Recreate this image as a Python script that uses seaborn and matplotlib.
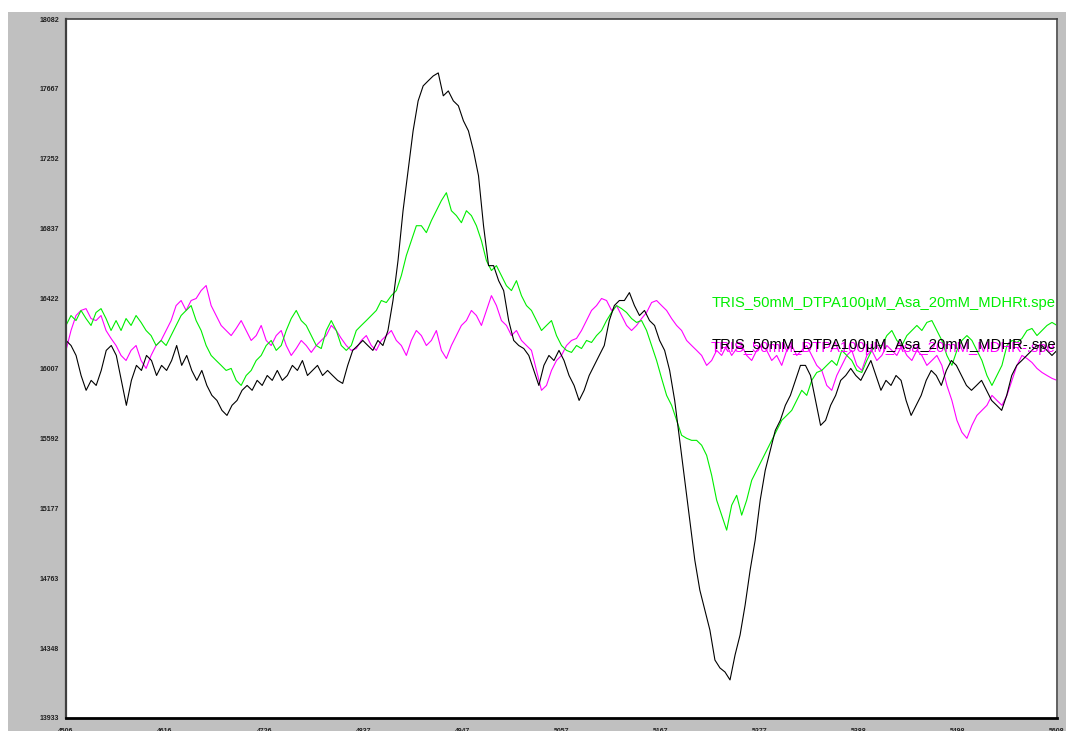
import numpy as np
import pandas as pd
import matplotlib
matplotlib.use("Agg")
import matplotlib.pyplot as plt
import seaborn as sns
from matplotlib.patches import Rectangle

# ---------------- data ----------------
FIELD_MIN, FIELD_MAX = 4506, 5608
Y_MIN, Y_MAX = 13933, 18082

x_tick_labels = ["4506", "4616", "4726", "4837", "4947", "5057",
                 "5167", "5277", "5388", "5498", "5608"]
y_tick_labels = ["13933", "14348", "14763", "15177", "15592", "16007",
                 "16422", "16837", "17252", "17667", "18082"]

label_green = "TRIS_50mM_DTPA100µM_Asa_20mM_MDHRt.spe"
label_black = "TRIS_50mM_DTPA100µM_Asa_20mM_MDHR-.spe"
label_magenta = "TRIS_50mM_DTPA100µM_Asa_20mM_MDHR-.spe"

black_vals = [
    16174, 16144, 16085, 15966, 15878, 15937, 15907, 15996, 16115, 16144,
    16085, 15937, 15789, 15937, 16026, 15996, 16085, 16055, 15966, 16026,
    15996, 16055, 16144, 16026, 16085, 15996, 15937, 15996, 15907, 15848,
    15818, 15759, 15729, 15789, 15818, 15878, 15907, 15878, 15937, 15907,
    15966, 15937, 15996, 15937, 15966, 16026, 15996, 16055, 15966, 15996,
    16026, 15966, 15996, 15966, 15937, 15919, 16026, 16115, 16144, 16174,
    16144, 16115, 16174, 16144, 16233, 16411, 16648, 16944, 17181, 17418,
    17596, 17685, 17715, 17744, 17762, 17626, 17655, 17596, 17567, 17478,
    17418, 17300, 17152, 16855, 16618, 16618, 16529, 16470, 16292, 16174,
    16144, 16126, 16085, 15996, 15907, 16026, 16085, 16055, 16115, 16055,
    15966, 15907, 15818, 15878, 15966, 16026, 16085, 16144, 16292, 16381,
    16411, 16411, 16458, 16381, 16322, 16352, 16292, 16263, 16174, 16115,
    15996, 15818, 15581, 15344, 15107, 14870, 14692, 14574, 14455, 14277,
    14230, 14206, 14159, 14307, 14426, 14603, 14811, 14989, 15226, 15403,
    15522, 15640, 15700, 15789, 15848, 15937, 16026, 16026, 15966, 15818,
    15670, 15700, 15789, 15848, 15937, 15966, 16008, 15966, 15937, 15996,
    16055, 15966, 15878, 15937, 15907, 15966, 15937, 15818, 15729, 15789,
    15848, 15937, 15996, 15966, 15907, 15996, 16055, 16026, 15966, 15907,
    15878, 15907, 15937, 15878, 15818, 15789, 15759, 15848, 15966, 16026,
    16055, 16085, 16115, 16144, 16144, 16115, 16085, 16115,
]

green_vals = [
    16263, 16322, 16292, 16352, 16304, 16263, 16340, 16363, 16304, 16233,
    16292, 16233, 16304, 16263, 16322, 16281, 16233, 16203, 16144, 16174,
    16144, 16203, 16263, 16322, 16352, 16381, 16292, 16233, 16144, 16085,
    16055, 16026, 15996, 16008, 15937, 15907, 15966, 15996, 16055, 16085,
    16144, 16174, 16115, 16144, 16233, 16304, 16352, 16292, 16263, 16203,
    16144, 16126, 16233, 16292, 16233, 16144, 16115, 16144, 16233, 16263,
    16292, 16322, 16352, 16411, 16399, 16440, 16470, 16559, 16678, 16766,
    16855, 16855, 16814, 16885, 16944, 17004, 17051, 16944, 16915, 16873,
    16944, 16915, 16855, 16766, 16648, 16589, 16618, 16559, 16499, 16470,
    16529, 16440, 16381, 16352, 16292, 16233, 16263, 16292, 16203, 16144,
    16115, 16103, 16144, 16126, 16174, 16162, 16203, 16233, 16292, 16340,
    16381, 16363, 16340, 16304, 16281, 16292, 16233, 16144, 16055, 15949,
    15848, 15789, 15700, 15611, 15593, 15581, 15581, 15552, 15492, 15374,
    15226, 15137, 15048, 15196, 15255, 15137, 15226, 15344, 15403, 15463,
    15522, 15581, 15640, 15700, 15729, 15759, 15818, 15878, 15848, 15937,
    15984, 15996, 16026, 16055, 16026, 16115, 16085, 16055, 15996, 15984,
    16055, 16115, 16144, 16144, 16203, 16233, 16174, 16144, 16203, 16233,
    16263, 16233, 16281, 16292, 16233, 16174, 16085, 16026, 16115, 16174,
    16203, 16174, 16115, 16055, 15966, 15907, 15966, 16026, 16144, 16174,
    16162, 16186, 16233, 16245, 16203, 16233, 16263, 16281, 16263,
]

magenta_vals = [
    16115, 16233, 16322, 16352, 16363, 16304, 16292, 16322, 16233, 16186,
    16144, 16085, 16055, 16115, 16144, 16055, 16008, 16085, 16144, 16174,
    16233, 16292, 16381, 16411, 16352, 16411, 16423, 16470, 16500, 16381,
    16322, 16263, 16233, 16203, 16245, 16292, 16233, 16174, 16203, 16263,
    16174, 16144, 16203, 16233, 16144, 16085, 16126, 16174, 16144, 16103,
    16144, 16174, 16203, 16263, 16233, 16186, 16144, 16115, 16126, 16174,
    16203, 16144, 16115, 16174, 16203, 16233, 16174, 16144, 16085, 16174,
    16233, 16203, 16144, 16174, 16233, 16115, 16067, 16144, 16203, 16263,
    16292, 16352, 16322, 16263, 16352, 16440, 16381, 16292, 16263, 16203,
    16233, 16174, 16144, 16115, 15996, 15878, 15907, 15996, 16055, 16085,
    16144, 16174, 16186, 16233, 16292, 16352, 16381, 16423, 16411, 16352,
    16381, 16322, 16263, 16233, 16263, 16304, 16340, 16399, 16411, 16381,
    16352, 16304, 16263, 16233, 16174, 16144, 16115, 16085, 16026, 16055,
    16115, 16085, 16144, 16085, 16126, 16144, 16085, 16055, 16115, 16144,
    16115, 16055, 16085, 16026, 16115, 16144, 16085, 16115, 16144, 16085,
    16026, 15996, 15907, 15878, 15966, 16026, 16085, 16115, 16026, 15996,
    16085, 16115, 16055, 16085, 16144, 16115, 16085, 16144, 16085, 16055,
    16115, 16085, 16026, 16055, 16085, 16026, 15907, 15818, 15700, 15629,
    15593, 15670, 15729, 15759, 15789, 15848, 15818, 15789, 15848, 15937,
    16026, 16085, 16067, 16043, 16008, 15984, 15966, 15949, 15937,
]

# ---------------- build long table ----------------
frames = []
for name, vals in [("magenta", magenta_vals), ("green", green_vals), ("black", black_vals)]:
    n = len(vals)
    frames.append(pd.DataFrame({
        "field": np.linspace(FIELD_MIN, FIELD_MAX, n),
        "intensity": vals,
        "series": name,
    }))
df = pd.concat(frames, ignore_index=True)

palette = {"magenta": "#ff00ff", "green": "#00ee00", "black": "#000000"}

# ---------------- figure ----------------
sns.set_style("white")
plt.rcParams["font.family"] = ["Liberation Sans", "DejaVu Sans"]

W, H = 1066, 731
fig = plt.figure(figsize=(W / 100, H / 100), dpi=100, facecolor="white")
bg = Rectangle((8 / W, 0), 1 - 8 / W, (H - 12) / H,
               transform=fig.transFigure, facecolor="#c0c0c0",
               edgecolor="none", zorder=-10)
fig.patches.append(bg)

ax = fig.add_axes([66 / W, 1 - 718 / H, (1057 - 66) / W, (718 - 19) / H])
ax.set_zorder(1)
ax.set_facecolor("white")

sns.lineplot(data=df, x="field", y="intensity", hue="series",
             hue_order=["magenta", "green", "black"], palette=palette,
             linewidth=0.8, legend=False, ax=ax, sort=False, estimator=None)

ax.set_xlim(FIELD_MIN, FIELD_MAX)
ax.set_ylim(Y_MIN, Y_MAX)
ax.set_xlabel("")
ax.set_ylabel("")

ax.set_xticks(np.linspace(FIELD_MIN, FIELD_MAX, len(x_tick_labels)))
ax.set_xticklabels(x_tick_labels)
ax.set_yticks(np.linspace(Y_MIN, Y_MAX, len(y_tick_labels)))
ax.set_yticklabels(y_tick_labels)
ax.tick_params(axis="both", direction="out", length=3.5, width=0.8,
               color="#202020", labelsize=5, labelcolor="#202020")
ax.tick_params(axis="y", pad=1.5)
ax.tick_params(axis="x", pad=4.0)
for lab in ax.get_xticklabels() + ax.get_yticklabels():
    lab.set_fontweight("bold")

for side, sp in ax.spines.items():
    sp.set_visible(True)
ax.spines["left"].set_color("#404040")
ax.spines["left"].set_linewidth(1.6)
ax.spines["bottom"].set_color("#000000")
ax.spines["bottom"].set_linewidth(2.0)
ax.spines["top"].set_color("#404040")
ax.spines["top"].set_linewidth(1.2)
ax.spines["right"].set_color("#606060")
ax.spines["right"].set_linewidth(1.4)

# in-plot labels
fs = 10.6
fig.text(712 / W, 1 - 303 / H, label_green,
         color=palette["green"], fontsize=fs, va="center", ha="left", zorder=5)
fig.text(711 / W, 1 - 348 / H, label_magenta,
         color=palette["magenta"], fontsize=fs, va="center", ha="left", zorder=5)
fig.text(712 / W, 1 - 345 / H, label_black,
         color=palette["black"], fontsize=fs, va="center", ha="left", zorder=6)

fig.savefig("out.png", dpi=100, facecolor=fig.get_facecolor())
